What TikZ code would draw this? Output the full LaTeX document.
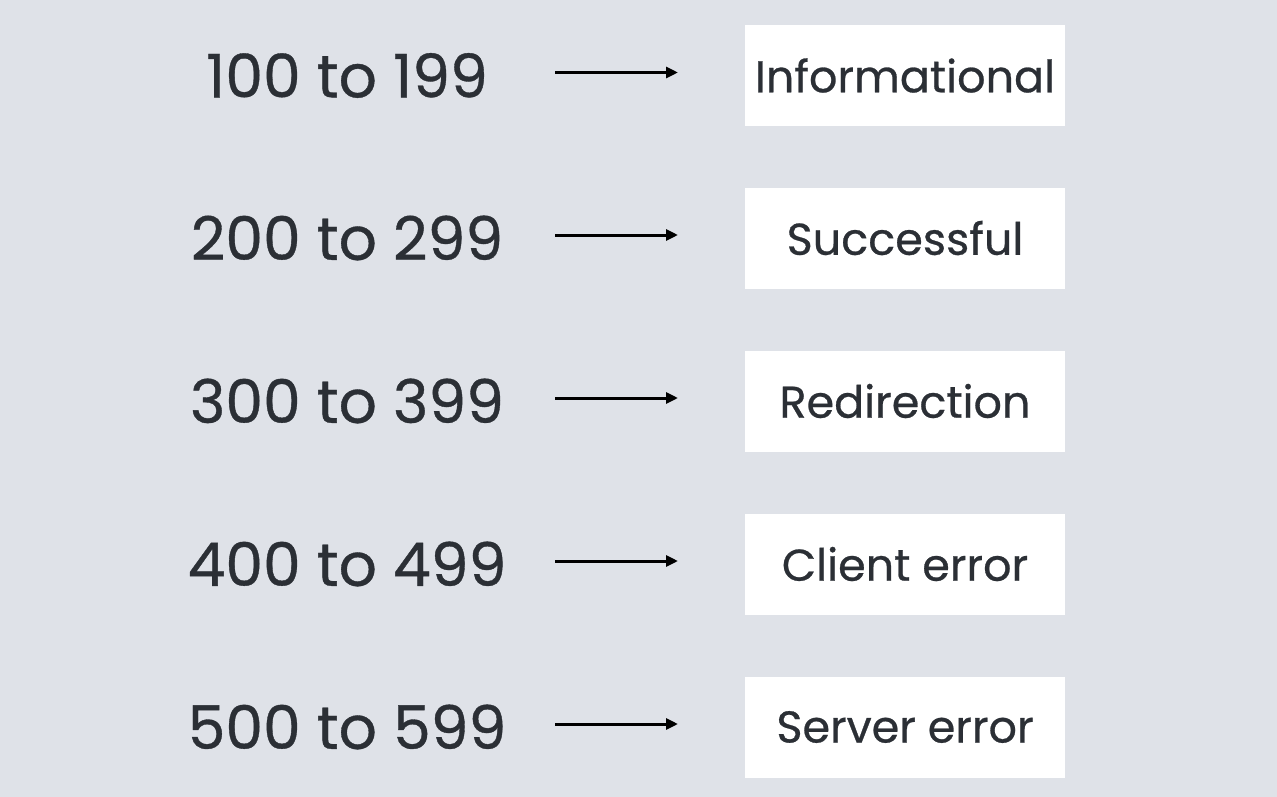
\documentclass[tikz,border=0pt]{standalone}
\usepackage{fontspec}
\setmainfont{Poppins}[FakeBold=0.6]
\usetikzlibrary{arrows.meta}
\definecolor{bg}{HTML}{DFE2E8}
\definecolor{ink}{HTML}{2B2F35}
\begin{document}
\begin{tikzpicture}[x=1pt,y=-1pt,
  num/.style={text=ink,font=\fontsize{60}{60}\selectfont,anchor=center},
  cat/.style={fill=white,text=ink,font=\fontsize{44.5}{44.5}\selectfont,minimum width=320pt,minimum height=101pt,inner sep=0pt,anchor=center},
  conn/.style={line width=3pt,draw=black,-{Triangle[length=12pt,width=11pt]}}]
\fill[bg] (0,0) rectangle (1277,797);
\useasboundingbox (0,0) rectangle (1277,797);
\foreach \i/\n/\t/\y in {1/100 to 199/Informational/75.5, 2/200 to 299/Successful/238, 3/300 to 399/Redirection/401, 4/400 to 499/Client error/564, 5/500 to 599/Server error/727}{
  \node[num] (n\i) at (347,\y) {\n};
  \node[cat] (c\i) at (905,\y) {\t};
  \coordinate (s\i) at (555,\y-3);
  \coordinate (e\i) at (678,\y-3);
  \draw[conn] (s\i) -- (e\i);
}
\end{tikzpicture}
\end{document}
